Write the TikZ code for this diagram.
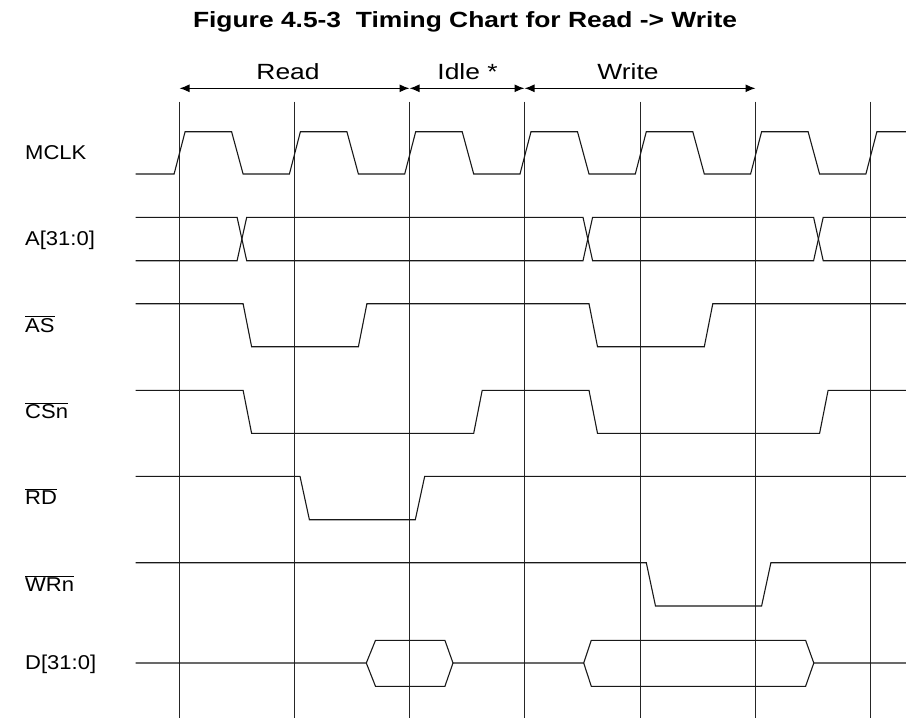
\documentclass[tikz,border=0pt]{standalone}
\usepackage{fontspec}
\setmainfont{Liberation Sans}
\usepackage{graphicx}
\usetikzlibrary{arrows.meta}
\newcommand{\ovl}[1]{$\overline{\mbox{#1}}$}
\newcommand{\wide}[1]{\scalebox{1.2}[1]{#1}}
\newcommand{\lwide}[1]{\scalebox{1.1}[1]{#1}}
\begin{document}
\begin{tikzpicture}[x=1pt,y=-1pt,
  sig/.style={line width=1.1pt, black!90, line join=miter},
  gridline/.style={line width=1pt, black!85},
  span/.style={line width=1.2pt, {Latex[length=10pt,width=8pt]}-{Latex[length=10pt,width=8pt]}},
  lbl/.style={anchor=base west, inner sep=0, font=\fontsize{20}{24}\selectfont},
  hdr/.style={anchor=base, inner sep=0, font=\fontsize{22}{26}\selectfont},
]
\useasboundingbox (0,0) rectangle (906,718);
% title
\node[hdr, font=\fontsize{22}{26}\selectfont\bfseries] (title) at (465,27.7) {\wide{Figure 4.5-3\ \ Timing Chart for Read -> Write}};
% vertical grid lines
\foreach \i/\x in {0/179.5,1/294.5,2/409.5,3/524.5,4/640.5,5/755.5,6/870.5} {
  \coordinate (t\i) at (\x,101.7);
  \coordinate (b\i) at (\x,718);
  \draw[gridline] (t\i) -- (b\i);
  \coordinate (a\i) at (\x,88.3);
}
% span arrows
\draw[span] (a0) -- (a2);
\draw[span] (a2) -- (a3);
\draw[span] (a3) -- (a5);
\node[hdr] (read) at (288,79) {\wide{Read}};
\node[hdr] (idle) at (467.5,79) {\wide{Idle *}};
\node[hdr] (write) at (628,79) {\wide{Write}};
% labels
\node[lbl] (lmclk) at (25,159.3) {\lwide{MCLK}};
\node[lbl] (la) at (25,245.8) {\lwide{A[31:0]}};
\node[lbl] (las) at (25,332) {\lwide{\ovl{AS}}};
\node[lbl] (lcs) at (25,418.6) {\lwide{\ovl{CSn}}};
\node[lbl] (lrd) at (25,504.8) {\lwide{\ovl{RD}}};
\node[lbl] (lwr) at (25,591.1) {\lwide{\ovl{WRn}}};
\node[lbl] (ld) at (25,669.8) {\lwide{D[31:0]}};
% MCLK
\draw[sig] (135.7,174) -- (174.1,174) -- (185.1,131.7) -- (231.6,131.7) -- (243.1,174)
  -- (289.4,174) -- (300.4,131.7) -- (346.9,131.7) -- (358.4,174)
  -- (404.7,174) -- (415.7,131.7) -- (462.2,131.7) -- (473.7,174)
  -- (520.0,174) -- (531.0,131.7) -- (577.5,131.7) -- (589.0,174)
  -- (635.3,174) -- (646.3,131.7) -- (692.8,131.7) -- (704.3,174)
  -- (750.6,174) -- (761.6,131.7) -- (808.1,131.7) -- (819.6,174)
  -- (865.9,174) -- (876.9,131.7) -- (906,131.7);
% A bus
\draw[sig] (135.7,217.3) -- (237.1,217.3) -- (246.7,260.7) -- (583,260.7) -- (592.6,217.3) -- (813.6,217.3) -- (823.2,260.7) -- (906,260.7);
\draw[sig] (135.7,260.7) -- (237.1,260.7) -- (246.7,217.3) -- (583,217.3) -- (592.6,260.7) -- (813.6,260.7) -- (823.2,217.3) -- (906,217.3);
% AS
\draw[sig] (135.7,303.7) -- (243.1,303.7) -- (251.6,346.7) -- (358.4,346.7) -- (366.9,303.7) -- (589,303.7) -- (597.5,346.7) -- (704.3,346.7) -- (712.8,303.7) -- (906,303.7);
% CSn
\draw[sig] (135.7,390.3) -- (243.1,390.3) -- (251.6,433.3) -- (473.7,433.3) -- (482.2,390.3) -- (589,390.3) -- (597.5,433.3) -- (819.6,433.3) -- (828.1,390.3) -- (906,390.3);
% RD
\draw[sig] (135.7,476.3) -- (300,476.3) -- (309.4,519.7) -- (415.3,519.7) -- (424.7,476.3) -- (906,476.3);
% WRn
\draw[sig] (135.7,562.7) -- (646.3,562.7) -- (655.5,606) -- (761.6,606) -- (770.9,562.7) -- (906,562.7);
% D bus
\draw[sig] (135.7,663) -- (366.3,663) -- (375.5,640.3) -- (444.9,640.3) -- (453,663) -- (583.7,663) -- (591.3,640.3) -- (805.6,640.3) -- (813.8,663) -- (906,663);
\draw[sig] (366.3,663) -- (375.5,686.3) -- (444.9,686.3) -- (453,663);
\draw[sig] (583.7,663) -- (591.3,686.3) -- (805.6,686.3) -- (813.8,663);
\end{tikzpicture}
\end{document}
